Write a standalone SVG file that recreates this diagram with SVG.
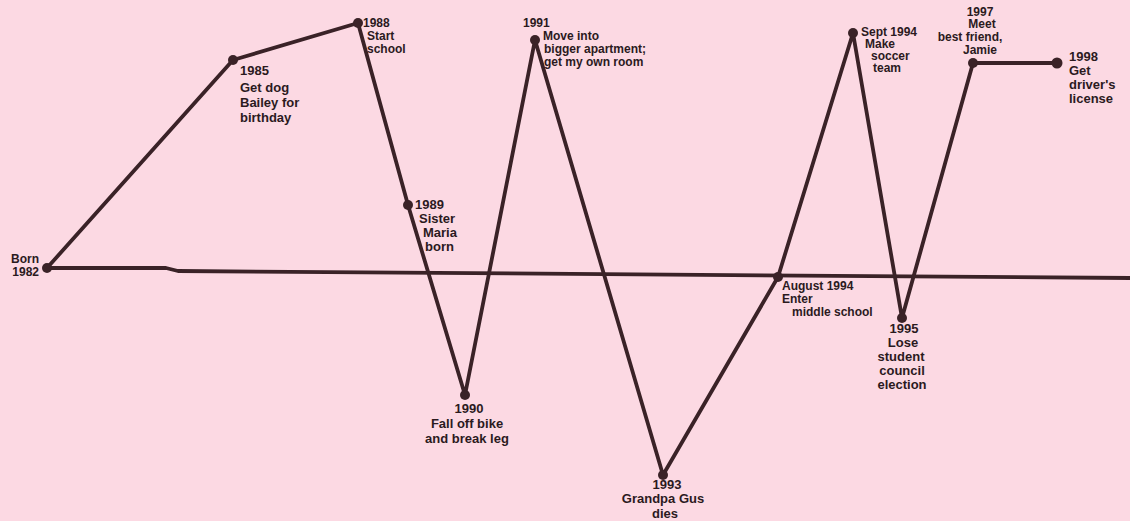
<svg xmlns="http://www.w3.org/2000/svg" width="1130" height="521" viewBox="0 0 1130 521">
<style>
  .bg { fill: #fcd9e3; }
  .ln { fill: none; stroke: #3a2227; stroke-width: 3.8; stroke-linejoin: round; stroke-linecap: round; }
  .dot { fill: #3a2227; }
  text { font-family: "Liberation Sans", Arial, sans-serif; font-weight: bold; font-size: 13px; fill: #2b1a1e; }
  .s { font-size: 12px; }
  .c { text-anchor: middle; }
  .e { text-anchor: end; }
</style>
<rect class="bg" x="0" y="0" width="1130" height="521"/>
<g id="connectors">
  <path class="ln" d="M47,268 L166,268 L178,271 L1130,278"/>
  <polyline class="ln" points="47,268 233,60 358,23 408,205 465,395 535,40 663,475 778,277 853,33 902,318 973,63 1057,63"/>
</g>
<g id="born"><circle class="dot" cx="47" cy="268" r="5"/><text class="e s" x="39" y="263">Born</text><text class="e s" x="39" y="276">1982</text></g>
<g id="y1985"><circle class="dot" cx="233" cy="60" r="5"/><text x="240" y="75">1985</text><text x="240" y="92">Get dog</text><text x="240" y="107">Bailey for</text><text x="240" y="122">birthday</text></g>
<g id="y1988"><circle class="dot" cx="358" cy="23" r="5"/><text class="s" x="363" y="27">1988</text><text class="s" x="367" y="40">Start</text><text class="s" x="367" y="53">school</text></g>
<g id="y1989"><circle class="dot" cx="408" cy="205" r="5"/><text x="415" y="209">1989</text><text x="419" y="223">Sister</text><text x="423" y="237">Maria</text><text x="425" y="251">born</text></g>
<g id="y1990"><circle class="dot" cx="465" cy="395" r="5"/><text class="c" x="469" y="413">1990</text><text class="c" x="467" y="428">Fall off bike</text><text class="c" x="467" y="443">and break leg</text></g>
<g id="y1991"><circle class="dot" cx="535" cy="40" r="5"/><text class="s" x="523" y="27">1991</text><text class="s" x="543" y="40">Move into</text><text class="s" x="544" y="53">bigger apartment;</text><text class="s" x="544" y="66">get my own room</text></g>
<g id="y1993"><circle class="dot" cx="663" cy="475" r="5"/><text class="c" x="667" y="489">1993</text><text class="c" x="663" y="503">Grandpa Gus</text><text class="c" x="665" y="518">dies</text></g>
<g id="aug1994"><circle class="dot" cx="778" cy="277" r="5"/><text class="s" x="782" y="290">August 1994</text><text class="s" x="782" y="303">Enter</text><text class="s" x="792" y="316">middle school</text></g>
<g id="sept1994"><circle class="dot" cx="853" cy="33" r="5"/><text class="s" x="861" y="36">Sept 1994</text><text class="s" x="865" y="48">Make</text><text class="s" x="871" y="60">soccer</text><text class="s" x="873" y="72">team</text></g>
<g id="y1995"><circle class="dot" cx="902" cy="318" r="5"/><text class="c" x="904" y="333">1995</text><text class="c" x="903" y="347">Lose</text><text class="c" x="901" y="361">student</text><text class="c" x="902" y="375">council</text><text class="c" x="902" y="389">election</text></g>
<g id="y1997"><circle class="dot" cx="973" cy="63" r="5"/><text class="c s" x="980" y="16">1997</text><text class="c s" x="982" y="28">Meet</text><text class="c s" x="970" y="41">best friend,</text><text class="c s" x="980" y="54">Jamie</text></g>
<g id="y1998"><circle class="dot" cx="1057" cy="63" r="5.5"/><text x="1069" y="61">1998</text><text x="1069" y="75">Get</text><text x="1069" y="89">driver's</text><text x="1069" y="103">license</text></g>
</svg>
